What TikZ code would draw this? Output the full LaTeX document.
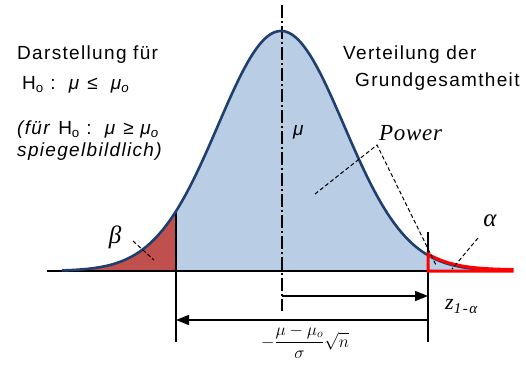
\documentclass[tikz,border=0pt]{standalone}
\usepackage{fontspec}
\setmainfont{Liberation Sans}
\newfontfamily\timesfont{Liberation Serif}
\usetikzlibrary{arrows.meta}
\definecolor{lightblue}{HTML}{B9CDE5}
\definecolor{betared}{HTML}{C0504D}
\definecolor{curveblue}{HTML}{1F3F6E}
\tikzset{
  lbl/.style={anchor=west, inner sep=0pt, font=\fontsize{19}{22}\selectfont\addfontfeatures{LetterSpace=7}},
  greek/.style={inner sep=0pt, font=\fontsize{25}{27}\selectfont\timesfont\itshape},
  leader/.style={black, line width=1pt, dash pattern=on 4pt off 2.5pt},
  vline/.style={black, line width=1.4pt},
  arr/.style={black, line width=1.4pt, -{Triangle[length=13pt,width=10pt]}},
}
\begin{document}
\begin{tikzpicture}[x=1pt, y=-1pt,
  declare function={g(\x)=271-240*exp(-((\x-281)/63)^2/2);}]
\useasboundingbox (0,0) rectangle (526,365);
% fills
\fill[betared] (62,271) -- plot[domain=62:176, samples=60] (\x,{g(\x)}) -- (176,271) -- cycle;
\fill[lightblue] (176,271) -- plot[domain=176:428, samples=120] (\x,{g(\x)}) -- (428,271) -- cycle;
\fill[lightblue] (428,271) -- plot[domain=428:510, samples=50] (\x,{g(\x)}) -- (510,271) -- cycle;
% named points
\coordinate (axL) at (47,271);
\coordinate (axR) at (512,271);
\coordinate (lt) at (176,{g(176)});
\coordinate (lb) at (176,342);
\coordinate (rt) at (428,232);
\coordinate (rb) at (428,342);
\coordinate (mt) at (282,5);
\coordinate (mb) at (282,311);
\coordinate (a1s) at (282,296);
\coordinate (a1e) at (428,296);
\coordinate (a2s) at (428,320);
\coordinate (a2e) at (176,320);
% axis and verticals
\draw[black, line width=1.4pt] (axL) -- (axR);
\draw[vline] (lt) -- (lb);
\draw[vline] (rt) -- (rb);
\draw[black, line width=1.3pt, dash pattern=on 13pt off 3pt on 2pt off 3pt] (mt) -- (mb);
% curve
\draw[curveblue, line width=2.6pt] plot[domain=62:497, samples=200] (\x,{g(\x)});
% red tail outline
\draw[red, line width=3pt, line join=miter] (428,271) -- (428,{g(428)-1}) -- plot[domain=428:512, samples=50] (\x,{g(\x)-1.2}) -- (512,271) -- cycle;
% leader lines
\coordinate (pw) at (377,145);
\coordinate (pwl) at (315,194);
\coordinate (pwr) at (436,265);
\coordinate (b1) at (133,241);
\coordinate (b2) at (154,260);
\coordinate (al1) at (478,238);
\coordinate (al2) at (452,269);
\draw[leader] (pwl) -- (pw) -- (pwr);
\draw[leader] (b1) -- (b2);
\draw[leader] (al1) -- (al2);
% arrows
\draw[arr] (a1s) -- (a1e);
\draw[arr] (a2s) -- (a2e);
% texts
\node[lbl] (t1) at (17,55) {Darstellung für};
\node[lbl] (t2) at (22,85) {H\textsubscript{o} :\ \ \textit{μ} ≤\ \ \textit{μ\textsubscript{o}}};
\node[lbl] (t3) at (17,130) {\textit{(für} H\textsubscript{o} :\ \ \textit{μ} ≥ \textit{μ\textsubscript{o}}};
\node[lbl] (t4) at (17,152) {\textit{spiegelbildlich)}};
\node[lbl] (t5) at (343,55) {Verteilung der};
\node[lbl] (t6) at (355,82) {Grundgesamtheit};
\node[lbl] (mu) at (293,132) {\textit{μ}};
\node[anchor=west, inner sep=0pt, font=\fontsize{23}{26}\selectfont\timesfont\itshape\addfontfeatures{LetterSpace=3}] (power) at (379,133) {Power};
\node[greek] (beta) at (115,237) {β};
\node[greek] (alpha) at (490,221) {α};
\node[anchor=base west, inner sep=0pt, font=\fontsize{22}{24}\selectfont\timesfont\itshape] (z) at (445,309) {z\raisebox{-4pt}{\fontsize{15}{15}\selectfont\addfontfeatures{LetterSpace=10}1-α}};
\node[anchor=base, inner sep=0pt, font=\fontsize{17}{19}\selectfont] (frm) at (305,347) {$\displaystyle -\frac{\mu-\mu_o}{\sigma}\sqrt{n}$};
\end{tikzpicture}
\end{document}
